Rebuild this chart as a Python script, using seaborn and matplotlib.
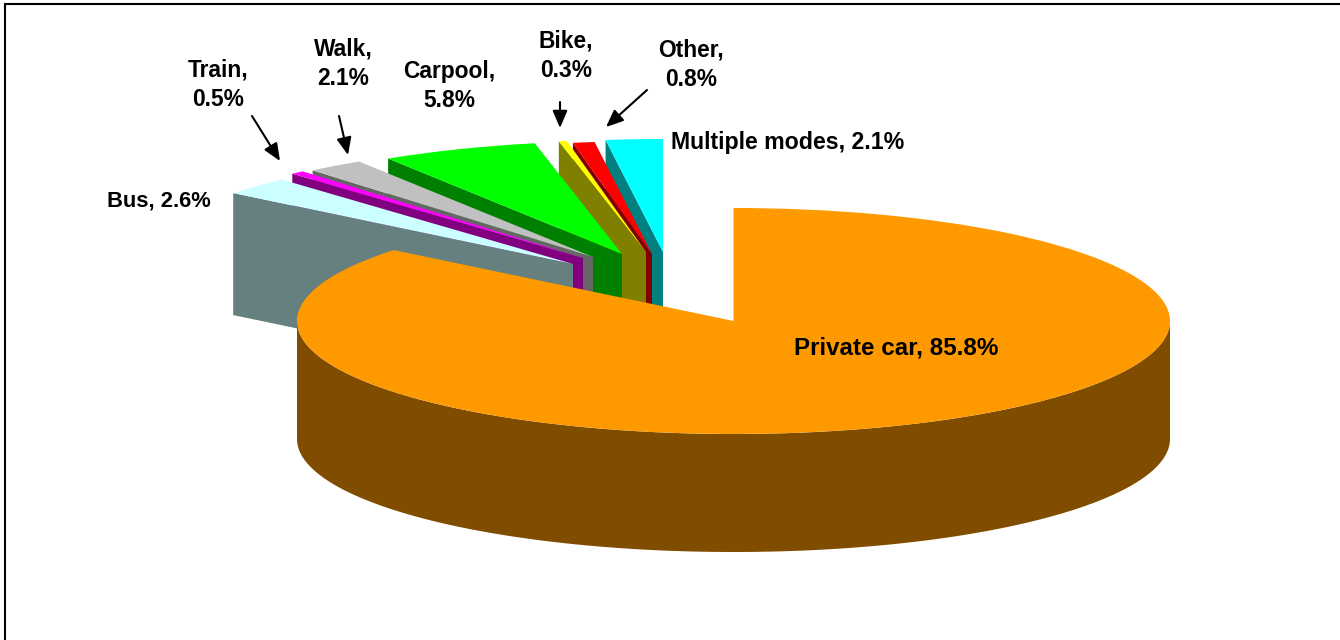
import matplotlib
matplotlib.use("Agg")
import matplotlib.pyplot as plt
from matplotlib.lines import Line2D
import numpy as np
import seaborn as sns

# ---- data ----
modes = ["Private car", "Bus", "Train", "Walk", "Carpool", "Bike", "Other", "Multiple modes"]
shares = [85.8, 2.6, 0.5, 2.1, 5.8, 0.3, 0.8, 2.1]

# ---- styles ----
top_colors = ["#FF9900", "#CCFFFF", "#FF00FF", "#C0C0C0", "#00FF00", "#FFFF00", "#FF0000", "#00FFFF"]
side_colors = ["#804D00", "#668080", "#800080", "#666666", "#008000", "#808000", "#800000", "#008080"]

# ---- layout, all in pixels of the 1340x640 canvas ----
W, H = 1340, 640
CX, CY, RX, RY = 733.5, 321.0, 436.5, 113.0
DEPTH_MAIN, DEPTH_OUT = 118.0, 122.0
apex_px = [(733.5, 321), (573, 264), (583, 258), (593, 257), (622, 254), (646, 252), (652, 254), (663, 252)]
label_px = [(896, 348), (159, 201), (218, 85), (343, 64), (449, 86), (566, 56), (691, 65), (788, 143)]
label_pt = [17.4, 15.8, 16.4, 16.4, 16.4, 16.4, 16.4, 16.7]
arrow_px = {"Train": ((252, 116), (280, 161)), "Walk": ((339, 116), (348, 155)),
            "Bike": ((560, 102), (560, 128)), "Other": ((647, 90), (606, 127))}

sns.set_theme(style="white")
plt.rcParams["font.family"] = ["Liberation Sans", "DejaVu Sans"]


def dx(px):
    return (px - CX) / RX


def dy(py):
    return (CY - py) / RY


def pt(p):
    return dx(p[0]), dy(p[1])


fig = plt.figure(figsize=(W / 100, H / 100), dpi=100, facecolor="white")
ax = fig.add_axes([0, 0, 1, 1])

wedges, _ = ax.pie(shares, colors=sns.color_palette(top_colors), startangle=90,
                   counterclock=False, radius=1.0, wedgeprops={"linewidth": 0})
ax.set_aspect("auto")
ax.set_xlim(dx(0), dx(W))
ax.set_ylim(dy(H), dy(0))
ax.axis("off")

# back to front: the outer slices from the right round to the left, then the big slice
for i, w in enumerate(wedges):
    w.set_center(pt(apex_px[i]))
    if i == 0:
        w.set_zorder(30)
        # curved wall of the big slice: the lower half of the ellipse
        a = np.radians(np.linspace(180, 360, 240))
        xs = np.cos(a) + w.center[0]
        ys = np.sin(a) + w.center[1]
        d = DEPTH_MAIN / RY
        ax.fill(np.r_[xs, xs[::-1]], np.r_[ys, ys[::-1] - d], color=side_colors[0], lw=0, zorder=29)
    else:
        z = 2 * (len(wedges) - i) + 2
        w.set_zorder(z + 1)
        # radial cut face on the leading edge of an exploded slice
        a = np.radians(w.theta2)
        cx0, cy0 = w.center
        ox, oy = cx0 + np.cos(a), cy0 + np.sin(a)
        d = DEPTH_OUT / RY
        ax.fill([ox, cx0, cx0, ox], [oy, cy0, cy0 - d, oy - d], color=side_colors[i], lw=0, zorder=z)

# labels
for name, share, pos, size in zip(modes, shares, label_px, label_pt):
    one_line = name in ("Private car", "Bus", "Multiple modes")
    sep = " " if one_line else "\n"
    ax.text(*pt(pos), f"{name},{sep}{share}%", ha="center", va="center", color="black",
            fontsize=size, fontweight="bold", linespacing=1.38, zorder=40)

# leader arrows
for start, end in arrow_px.values():
    ax.annotate("", xy=pt(end), xytext=pt(start), zorder=40,
                arrowprops=dict(arrowstyle="-|>,head_length=0.75,head_width=0.32", color="black",
                                lw=1.5, shrinkA=0, shrinkB=0, mutation_scale=14))

# chart frame: only top and left are inside the canvas
fig.add_artist(Line2D([4.5 / W, 1], [1 - 3.8 / H, 1 - 3.8 / H], color="black", lw=1.5))
fig.add_artist(Line2D([4.8 / W, 4.8 / W], [0, 1 - 3.8 / H], color="black", lw=1.5))

fig.savefig("out.png", dpi=100, facecolor="white")
